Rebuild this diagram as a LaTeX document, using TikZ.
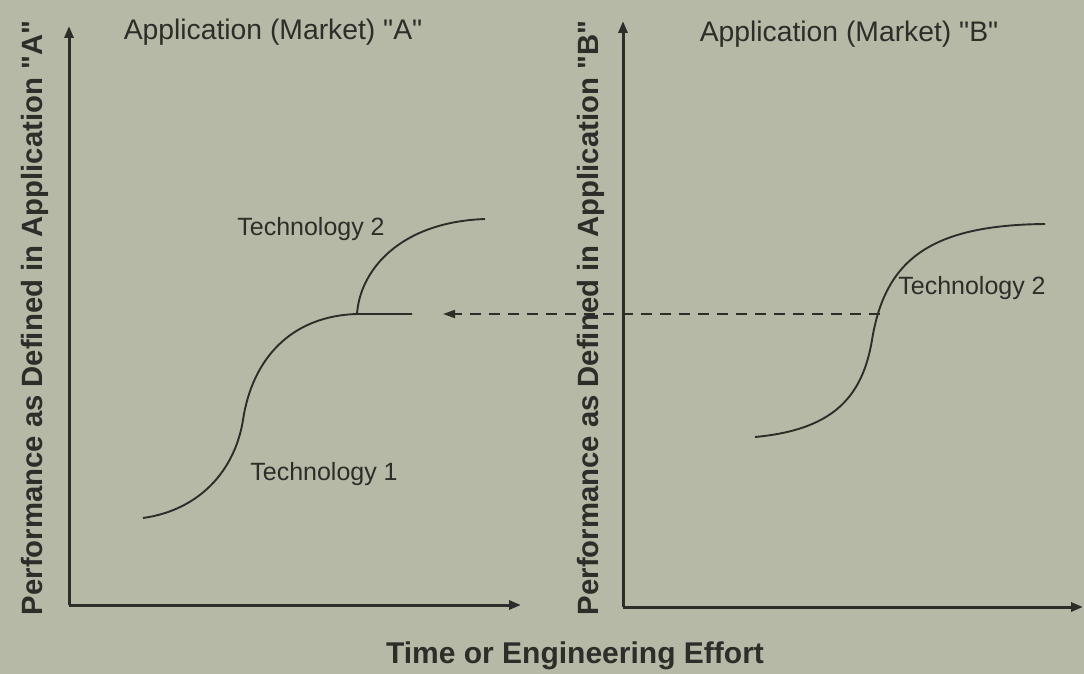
\documentclass[tikz,border=0pt]{standalone}
\usepackage{fontspec}
\setmainfont{Liberation Sans}[Ligatures=TeXOff]
\usetikzlibrary{arrows.meta}
\definecolor{paper}{RGB}{182,185,166}
\definecolor{ink}{RGB}{45,46,42}
\begin{document}
\begin{tikzpicture}[x=1pt,y=-1pt,
  axis/.style={draw=ink,line width=3pt,-{Triangle[length=12pt,width=9pt]}},
  curve/.style={draw=ink,line width=1.9pt},
  guide/.style={draw=ink,line width=1.9pt,dash pattern=on 11pt off 8pt,-{Triangle[length=12pt,width=8pt]}},
  title/.style={text=ink,font=\fontsize{28.3}{30}\selectfont,inner sep=0pt},
  tech/.style={text=ink,font=\fontsize{25}{27}\selectfont,inner sep=0pt},
  ylab/.style={text=ink,font=\bfseries\fontsize{29.3}{31}\selectfont,rotate=90,inner sep=0pt},
  xlab/.style={text=ink,font=\bfseries\fontsize{30}{32}\selectfont,inner sep=0pt}]
\fill[paper] (0,0) rectangle (1084,674);
\useasboundingbox (0,0) rectangle (1084,674);
% axes
\coordinate (oA) at (69,605);
\coordinate (yA) at (69,26);
\coordinate (xA) at (521,605);
\coordinate (oB) at (623,607);
\coordinate (yB) at (623,21);
\coordinate (xB) at (1083,607);
\draw[axis] (oA) -- (yA);
\draw[axis] (oA) -- (xA);
\draw[axis] (oB) -- (yB);
\draw[axis] (oB) -- (xB);
% labels
\node[title] (tA) at (273,32) {Application (Market) "A"};
\node[title] (tB) at (849,34) {Application (Market) "B"};
\node[ylab] (lA) at (35,318) {Performance as Defined in Application "A"};
\node[ylab] (lB) at (591,318) {Performance as Defined in Application "B"};
\node[xlab] (lx) at (575,656) {Time or Engineering Effort};
\node[tech] (t2A) at (311,229) {Technology 2};
\node[tech] (t1A) at (324,474) {Technology 1};
\node[tech] (t2B) at (972,288) {Technology 2};
% curves
\coordinate (j) at (357,314);
\draw[curve] (143,518) .. controls (200,510) and (235,470) .. (243,420)
  .. controls (252,360) and (290,316) .. (j) -- (412,314);
\draw[curve] (j) .. controls (360,270) and (400,222) .. (485,219);
\draw[curve] (755,437) .. controls (830,430) and (862,400) .. (872,340)
  .. controls (885,260) and (930,225) .. (1045,224);
\coordinate (dS) at (880,314);
\coordinate (dE) at (443,314);
\draw[guide] (dS) -- (dE);
\end{tikzpicture}
\end{document}
